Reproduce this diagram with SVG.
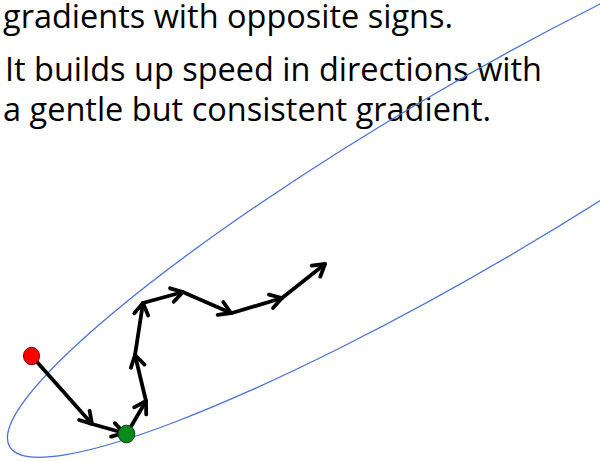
<svg xmlns="http://www.w3.org/2000/svg" width="600" height="461" viewBox="0 0 600 461">
<style>
.t{font-family:"Open Sans","Noto Sans","Liberation Sans",sans-serif;font-size:32px;fill:#000}
.c{fill:none;stroke:#4a72d6;stroke-width:1.3}
.a{fill:none;stroke:#000;stroke-width:3.8;stroke-linecap:round;stroke-linejoin:round;marker-end:url(#chev)}
</style>
<defs>
<marker id="chev" markerUnits="userSpaceOnUse" markerWidth="30" markerHeight="30" refX="15" refY="15" orient="auto" viewBox="0 0 30 30">
<path d="M3.5 8 L15 15 L3.5 22" fill="none" stroke="#000" stroke-width="3.8" stroke-linecap="round" stroke-linejoin="round"/>
</marker>
</defs>
<rect width="600" height="461" fill="#fff"/>
<text class="t" x="3" y="27.5" textLength="450" lengthAdjust="spacingAndGlyphs">gradients with opposite signs.</text>
<text class="t" x="5" y="81" textLength="537" lengthAdjust="spacingAndGlyphs">It builds up speed in directions with</text>
<text class="t" x="3" y="121" textLength="488" lengthAdjust="spacingAndGlyphs">a gentle but consistent gradient.</text>
<ellipse class="c" cx="470" cy="176" rx="534" ry="88.8" transform="rotate(-30.45 470 176)"/>
<g id="connectors">
<path class="a" d="M37 362 L92 424"/>
<path class="a" d="M92 424 L124 433"/>
<path class="a" d="M129 430 L146 401"/>
<path class="a" d="M146 401 L135 355"/>
<path class="a" d="M135 355 L143 303"/>
<path class="a" d="M143 303 L183 292"/>
<path class="a" d="M185 293 L231 313"/>
<path class="a" d="M232 313 L282 298"/>
<path class="a" d="M282 298 L325 264"/>
</g>
<g id="start">
<ellipse cx="31.5" cy="356" rx="8" ry="8.8" fill="#f00" stroke="#7a0000" stroke-width="1"/>
</g>
<g id="end">
<ellipse cx="126.5" cy="434" rx="8.3" ry="8.8" fill="#0a8a1a" stroke="#0b3d0b" stroke-width="1"/>
</g>
</svg>
